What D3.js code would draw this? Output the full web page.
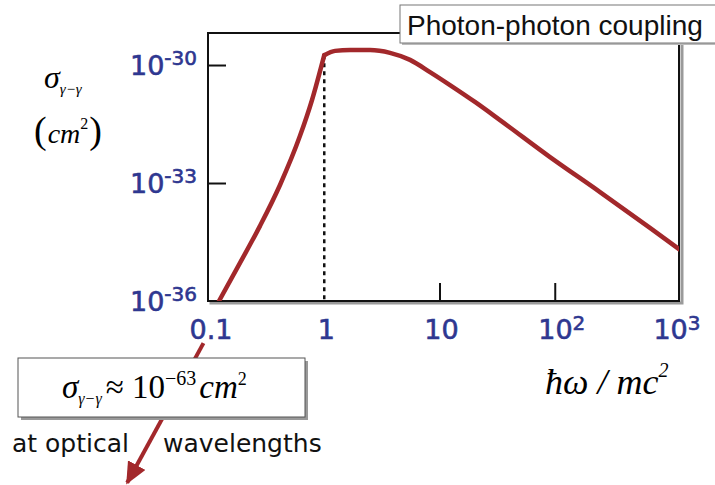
<!DOCTYPE html>
<html>
<head>
<meta charset="utf-8">
<script src="https://cdn.jsdelivr.net/npm/d3@7"></script>
<style>
  body { margin: 0; background: #fff; }
  svg { display: block; }
</style>
</head>
<body>
<div class="graph"></div>
<script>
/*---------- DATA ----------*/

// photon energy in units of mc^2
const energy = [0.1221, 0.1858, 0.2771, 0.413, 0.616, 0.783, 1,
                1.240, 1.673, 2.495, 3.72, 5.55, 8.27, 12.33, 20.3, 33.5, 91.0, 247, 670, 1197];
// cross section in cm^2
const sigma = [1e-36, 9.33e-36, 8.13e-35, 8.91e-34, 1.58e-32, 1.29e-31, 1.78e-30,
               2.29e-30, 2.40e-30, 2.40e-30, 2.04e-30, 1.35e-30, 6.61e-31, 3.09e-31, 1.15e-31,
               3.98e-32, 4.57e-33, 5.89e-34, 7.24e-35, 2.09e-35];
const threshold = 1;

// extension of the rising branch down to optical wavelengths (annotation arrow)
const arrowEnergy = [0.0895, 0.0195];
const arrowSigma = [8.5e-38, 2.4e-41];

const xTicks = [0.1, 1, 10, 100, 1000];
const xTickBase = ["0.1", "1", "10", "10", "10"];
const xTickExp = ["", "", "", "2", "3"];
const xMinorTicks = [10, 100];

const yTicks = [1e-36, 1e-33, 1e-30];
const yTickExp = ["-36", "-33", "-30"];

const title = "Photon-photon coupling";

/*---------- D3 STUFF ----------*/

//define dimensions
const SIZE = {X: 715, Y: 485};
const MARGIN = {TOP: 33, LEFT: 208};
const DIM = {WIDTH: 471, HEIGHT: 268};
const RED = "#a2282b";
const NAVY = "#2e3790";

const svg = d3.select(".graph").append("svg")
    .attr("width", SIZE.X)
    .attr("height", SIZE.Y);

const defs = svg.append("defs");
defs.append("clipPath").attr("id", "plotclip")
  .append("rect")
    .attr("width", DIM.WIDTH)
    .attr("height", DIM.HEIGHT);

defs.append("marker")
    .attr("id", "head")
    .attr("markerUnits", "userSpaceOnUse")
    .attr("viewBox", "0 0 22 20")
    .attr("markerWidth", 22)
    .attr("markerHeight", 20)
    .attr("refX", 20)
    .attr("refY", 10)
    .attr("orient", "auto")
  .append("path")
    .attr("d", "M0,0 L22,10 L0,20 Z")
    .attr("fill", RED);

const graph = svg.append("g")
    .attr("transform", `translate(${MARGIN.LEFT}, ${MARGIN.TOP})`);

//define scales (0.1 sits one pixel right of the frame edge)
const x = d3.scaleLog()
    .domain([0.0980, 1197])
    .range([0, DIM.WIDTH]);

const y = d3.scaleLog()
    .domain([1e-36, Math.pow(10, -29.186)])
    .range([DIM.HEIGHT, 0]);

//frame shadow + frame
graph.append("rect")
    .attr("x", 3).attr("y", 2)
    .attr("width", DIM.WIDTH).attr("height", DIM.HEIGHT)
    .attr("fill", "none")
    .attr("stroke", "#9a9a9a")
    .attr("stroke-width", 3);

graph.append("rect")
    .attr("width", DIM.WIDTH).attr("height", DIM.HEIGHT)
    .attr("fill", "#fff")
    .attr("stroke", "#111")
    .attr("stroke-width", 2);

//inward ticks
const xAxis = graph.append("g")
    .attr("transform", `translate(0, ${DIM.HEIGHT})`)
    .call(d3.axisBottom(x).tickValues(xMinorTicks).tickSizeInner(-18).tickSizeOuter(0).tickFormat(""));
xAxis.select(".domain").remove();
xAxis.selectAll("line").attr("stroke", "#111").attr("stroke-width", 2);

const yAxis = graph.append("g")
    .call(d3.axisLeft(y).tickValues(yTicks.slice(1)).tickSizeInner(-18).tickSizeOuter(0).tickFormat(""));
yAxis.select(".domain").remove();
yAxis.selectAll("line").attr("stroke", "#111").attr("stroke-width", 2);

//threshold marker
const iThr = energy.indexOf(threshold);
graph.append("line")
    .attr("x1", x(threshold)).attr("x2", x(threshold))
    .attr("y1", y(sigma[iThr])).attr("y2", DIM.HEIGHT)
    .attr("stroke", "#111")
    .attr("stroke-width", 2.5)
    .attr("stroke-dasharray", "4,4");

//curve, two branches meeting at the threshold kink
const pts = energy.map((e, i) => [e, sigma[i]]);
const line = d3.line()
    .x(d => x(d[0]))
    .y(d => y(d[1]))
    .curve(d3.curveMonotoneX);

const plot = graph.append("g").attr("clip-path", "url(#plotclip)");
[pts.slice(0, iThr + 1), pts.slice(iThr)].forEach(seg => {
    plot.append("path")
        .attr("d", line(seg))
        .attr("fill", "none")
        .attr("stroke", RED)
        .attr("stroke-width", 4.5)
        .attr("stroke-linejoin", "round")
        .attr("stroke-linecap", "round");
});

//tick labels
const xLab = graph.append("g")
    .attr("fill", NAVY)
    .attr("stroke", NAVY)
    .attr("stroke-width", 0.6)
    .attr("font-family", "DejaVu Sans")
    .attr("font-size", 27);
xTicks.forEach((t, i) => {
    const txt = xLab.append("text")
        .attr("x", x(t) + (xTickExp[i] ? 7 : 2))
        .attr("y", DIM.HEIGHT + 38)
        .attr("text-anchor", "middle");
    txt.append("tspan").text(xTickBase[i]);
    if (xTickExp[i]) {
        txt.append("tspan")
            .attr("font-size", 20)
            .attr("dy", -9)
            .text(xTickExp[i]);
    }
});

const yLab = graph.append("g")
    .attr("fill", NAVY)
    .attr("stroke", NAVY)
    .attr("stroke-width", 0.6)
    .attr("font-family", "DejaVu Sans")
    .attr("font-size", 27);
yTicks.forEach((t, i) => {
    const txt = yLab.append("text")
        .attr("x", -11)
        .attr("y", y(t) + 10)
        .attr("text-anchor", "end");
    txt.append("tspan").text("10");
    txt.append("tspan")
        .attr("font-size", 20)
        .attr("dy", -10)
        .text(yTickExp[i]);
});

//axis titles
const yTitle = svg.append("text")
    .attr("x", 44).attr("y", 88)
    .attr("font-family", "Liberation Serif")
    .attr("font-style", "italic")
    .attr("font-size", 32);
yTitle.append("tspan").text("σ");
yTitle.append("tspan").attr("font-size", 15).attr("dy", 6).text("γ−γ");

const yUnit = svg.append("text")
    .attr("x", 34).attr("y", 143)
    .attr("font-family", "Liberation Serif")
    .attr("font-size", 28);
yUnit.append("tspan").attr("font-size", 38).attr("dy", 0).text("(");
yUnit.append("tspan").attr("font-style", "italic").attr("dx", 1).text("cm");
yUnit.append("tspan").attr("font-size", 16).attr("dy", -14).text("2");
yUnit.append("tspan").attr("font-size", 38).attr("dy", 14).attr("dx", 1).text(")");

const xTitle = svg.append("text")
    .attr("x", 545).attr("y", 394)
    .attr("font-family", "Liberation Serif")
    .attr("font-style", "italic")
    .attr("font-size", 36);
xTitle.append("tspan").text("ħω / mc");
xTitle.append("tspan").attr("font-size", 20).attr("dy", -17).text("2");

//title box
svg.append("rect")
    .attr("x", 402).attr("y", 7)
    .attr("width", 330).attr("height", 38)
    .attr("fill", "#bbb");
svg.append("rect")
    .attr("x", 400).attr("y", 5)
    .attr("width", 330).attr("height", 38)
    .attr("fill", "#fff")
    .attr("stroke", "#777")
    .attr("stroke-width", 1);
svg.append("text")
    .attr("x", 407).attr("y", 35)
    .attr("font-family", "Liberation Sans")
    .attr("font-size", 28)
    .attr("fill", "#111")
    .text(title);

//annotation arrow
svg.append("line")
    .attr("x1", MARGIN.LEFT + x(arrowEnergy[0]))
    .attr("y1", MARGIN.TOP + y(arrowSigma[0]))
    .attr("x2", MARGIN.LEFT + x(arrowEnergy[1]))
    .attr("y2", MARGIN.TOP + y(arrowSigma[1]))
    .attr("stroke", RED)
    .attr("stroke-width", 4)
    .attr("marker-end", "url(#head)");

//annotation box
svg.append("rect")
    .attr("x", 21).attr("y", 361)
    .attr("width", 287).attr("height", 59)
    .attr("fill", "#999");
svg.append("rect")
    .attr("x", 18).attr("y", 358)
    .attr("width", 287).attr("height", 59)
    .attr("fill", "#fff")
    .attr("stroke", "#555")
    .attr("stroke-width", 1);

const note = svg.append("text")
    .attr("x", 62).attr("y", 398)
    .attr("font-family", "Liberation Serif")
    .attr("font-size", 33);
note.append("tspan").attr("font-style", "italic").text("σ");
note.append("tspan").attr("font-style", "italic").attr("font-size", 16).attr("dy", 6).text("γ−γ");
note.append("tspan").attr("dy", -6).attr("dx", 4).text("≈ 10");
note.append("tspan").attr("font-size", 20).attr("dy", -13).text("−63");
note.append("tspan").attr("font-style", "italic").attr("dy", 13).attr("dx", 3).text("cm");
note.append("tspan").attr("font-size", 18).attr("dy", -13).text("2");

svg.append("text")
    .attr("x", 12).attr("y", 452)
    .attr("font-family", "DejaVu Sans")
    .attr("font-size", 25)
    .attr("fill", "#111")
    .text("at optical");
svg.append("text")
    .attr("x", 163).attr("y", 452)
    .attr("font-family", "DejaVu Sans")
    .attr("font-size", 25)
    .attr("fill", "#111")
    .text("wavelengths");
</script>
</body>
</html>
